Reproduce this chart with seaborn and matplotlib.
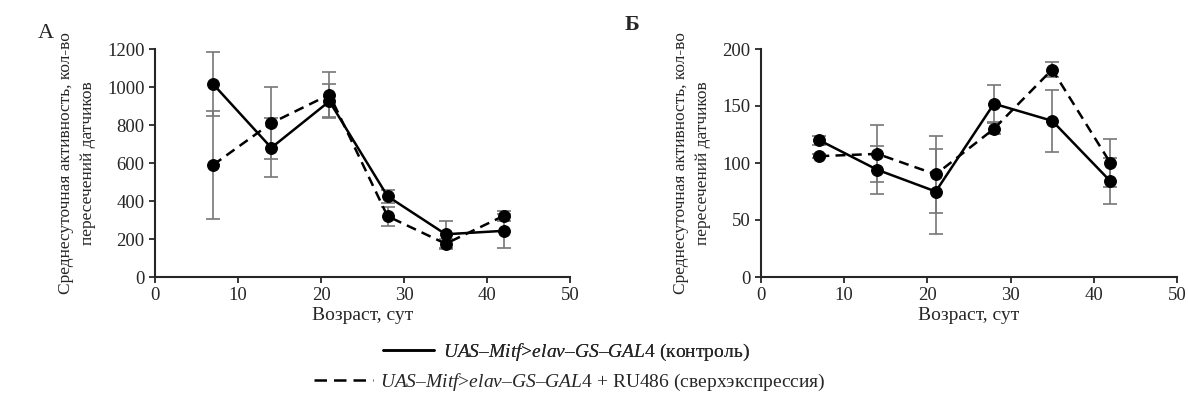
import numpy as np
import pandas as pd
import matplotlib
matplotlib.use("Agg")
import matplotlib.pyplot as plt
import seaborn as sns

sns.set_style("ticks")
plt.rcParams['font.family'] = ['Liberation Serif', 'DejaVu Serif']
plt.rcParams['mathtext.fontset'] = 'custom'
plt.rcParams['mathtext.rm'] = 'Liberation Serif'
plt.rcParams['mathtext.it'] = 'Liberation Serif:italic'

# ages, days
age = [7, 14, 21, 28, 35, 42]

# panel A
a_ctrl = [1015, 680, 925, 425, 225, 243]
a_ctrl_err = [170, 155, 90, 35, 70, 90]
a_ru = [590, 810, 960, 320, 175, 322]
a_ru_err = [283, 190, 120, 50, 25, 25]

# panel B
b_ctrl = [120, 94, 75, 152, 137, 84]
b_ctrl_err = [4, 21, 37, 16, 27, 20]
b_ru = [106, 108, 90, 130, 182, 100]
b_ru_err = [2, 25, 34, 5, 7, 21]

lab_ctrl = r"$\mathit{UAS–Mitf}$>$\mathit{elav–GS–GAL4}$ (контроль)"
lab_ru = r"$\mathit{UAS–Mitf}$>$\mathit{elav–GS–GAL4}$ + RU486 (сверхэкспрессия)"
ylab = "Среднесуточная активность, кол-во\nпересечений датчиков"

fig = plt.figure(figsize=(11.88, 4.0), dpi=100)
axA = fig.add_axes([0.1305, 0.3075, 0.3495, 0.57])
axB = fig.add_axes([0.6406, 0.3075, 0.3501, 0.57])


def draw(ax, ctrl, ctrl_err, ru, ru_err, ymax, ystep):
    df = pd.DataFrame({
        "age": age + age,
        "val": ctrl + ru,
        "grp": ["ctrl"] * len(age) + ["ru"] * len(age),
    })
    ax.errorbar(age, ctrl, yerr=ctrl_err, fmt='none', ecolor='#777777',
                elinewidth=1.2, capsize=5, capthick=1.2, zorder=1)
    ax.errorbar(age, ru, yerr=ru_err, fmt='none', ecolor='#777777',
                elinewidth=1.2, capsize=5, capthick=1.2, zorder=1)
    sns.lineplot(data=df, x="age", y="val", style="grp", color="black",
                 markers={"ctrl": "o", "ru": "o"},
                 dashes={"ctrl": "", "ru": (4, 2.5)},
                 markersize=8.5, linewidth=1.8, markeredgecolor="black",
                 legend=False, ax=ax, zorder=3)
    ax.set_xlim(0, 50)
    ax.set_ylim(0, ymax)
    ax.set_xticks(np.arange(0, 51, 10))
    ax.set_yticks(np.arange(0, ymax + 1, ystep))
    ax.set_xlabel("Возраст, сут", fontsize=14, labelpad=2)
    ax.set_ylabel(ylab, fontsize=12.5, linespacing=1.5, labelpad=8)
    ax.tick_params(labelsize=13.5, length=4, width=1.3, direction='out')
    for s in ["top", "right"]:
        ax.spines[s].set_visible(False)
    for s in ["left", "bottom"]:
        ax.spines[s].set_linewidth(1.5)


draw(axA, a_ctrl, a_ctrl_err, a_ru, a_ru_err, 1200, 200)
draw(axB, b_ctrl, b_ctrl_err, b_ru, b_ru_err, 200, 50)

fig.text(0.032, 0.905, "А", fontsize=16)
fig.text(0.526, 0.925, "Б", fontsize=16, fontweight='bold')

h1 = plt.Line2D([], [], color='black', lw=1.8)
h2 = plt.Line2D([], [], color='black', lw=1.8, dashes=(5, 2.8))
leg1 = fig.legend([h1], [lab_ctrl], loc='center', bbox_to_anchor=(0.477, 0.12),
                  frameon=False, fontsize=14, handlelength=2.6, handletextpad=0.5)
fig.add_artist(leg1)
fig.legend([h2], [lab_ru], loc='center', bbox_to_anchor=(0.48, 0.045),
           frameon=False, fontsize=14, handlelength=3.0, handletextpad=0.4)

fig.savefig("out.png", dpi=100)
